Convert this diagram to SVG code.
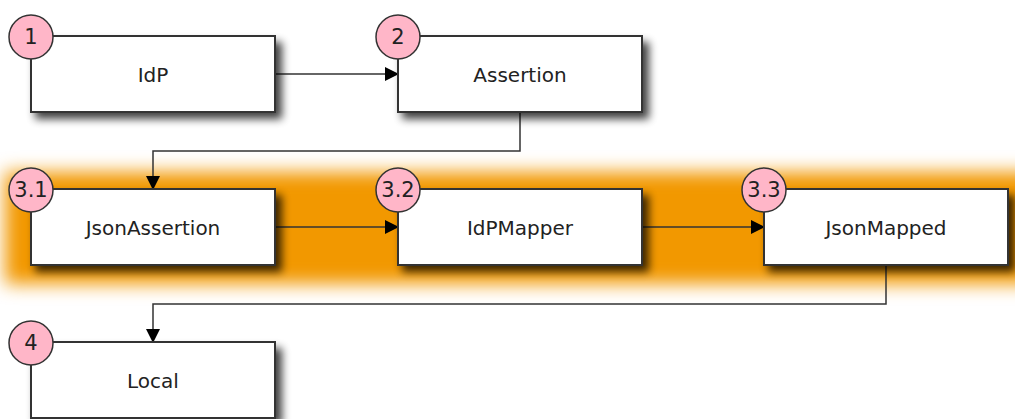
<svg xmlns="http://www.w3.org/2000/svg" width="1015" height="419" viewBox="0 0 1015 419">
<defs>
<filter id="sh" x="-20%" y="-30%" width="150%" height="180%"><feGaussianBlur stdDeviation="4"/></filter>
<filter id="band" x="-10%" y="-50%" width="120%" height="200%"><feGaussianBlur stdDeviation="9"/></filter>
<marker id="ar" markerWidth="14" markerHeight="14" refX="13" refY="7" orient="auto" markerUnits="userSpaceOnUse"><path d="M0,0 L14,7 L0,14 Z" fill="#000"/></marker>
</defs>
<style>
.box{fill:#fff;stroke:#333;stroke-width:2}
.shadow{fill:#000;opacity:0.75}
.badge{fill:#ffb6c8;stroke:#333;stroke-width:1.5}
.lbl{font-family:"DejaVu Sans",sans-serif;font-size:20px;fill:#222;text-anchor:middle;dominant-baseline:central}
.num{font-family:"DejaVu Sans",sans-serif;font-size:21px;fill:#222;text-anchor:middle;dominant-baseline:central}
.con{fill:none;stroke:#333;stroke-width:1.5}
</style>
<rect x="5" y="172" width="1050" height="112" fill="#f29800" filter="url(#band)"/>
<g id="connectors">
<path class="con" d="M275,74 H398" marker-end="url(#ar)"/>
<path class="con" d="M520,112 V151 H153 V189" marker-end="url(#ar)"/>
<path class="con" d="M275,227 H398" marker-end="url(#ar)"/>
<path class="con" d="M642,227 H764" marker-end="url(#ar)"/>
<path class="con" d="M886,265 V304 H153 V342" marker-end="url(#ar)"/>
</g>
<g id="n1">
<rect class="shadow" x="35" y="42" width="247" height="77" filter="url(#sh)"/>
<rect class="box" x="31" y="36" width="244" height="76"/>
<text class="lbl" x="153" y="75">IdP</text>
<circle class="badge" cx="31" cy="37" r="22"/><text class="num" x="31" y="37">1</text>
</g>
<g id="n2">
<rect class="shadow" x="402" y="42" width="247" height="77" filter="url(#sh)"/>
<rect class="box" x="398" y="36" width="244" height="76"/>
<text class="lbl" x="520" y="75">Assertion</text>
<circle class="badge" cx="398" cy="37" r="22"/><text class="num" x="398" y="37">2</text>
</g>
<g id="n31">
<rect class="shadow" x="35" y="195" width="247" height="77" filter="url(#sh)"/>
<rect class="box" x="31" y="189" width="244" height="76"/>
<text class="lbl" x="153" y="228">JsonAssertion</text>
<circle class="badge" cx="31" cy="190" r="22"/><text class="num" x="31" y="190">3.1</text>
</g>
<g id="n32">
<rect class="shadow" x="402" y="195" width="247" height="77" filter="url(#sh)"/>
<rect class="box" x="398" y="189" width="244" height="76"/>
<text class="lbl" x="520" y="228">IdPMapper</text>
<circle class="badge" cx="398" cy="190" r="22"/><text class="num" x="398" y="190">3.2</text>
</g>
<g id="n33">
<rect class="shadow" x="768" y="195" width="247" height="77" filter="url(#sh)"/>
<rect class="box" x="764" y="189" width="244" height="76"/>
<text class="lbl" x="886" y="228">JsonMapped</text>
<circle class="badge" cx="764" cy="190" r="22"/><text class="num" x="764" y="190">3.3</text>
</g>
<g id="n4">
<rect class="shadow" x="35" y="348" width="247" height="77" filter="url(#sh)"/>
<rect class="box" x="31" y="342" width="244" height="76"/>
<text class="lbl" x="153" y="381">Local</text>
<circle class="badge" cx="31" cy="343" r="22"/><text class="num" x="31" y="343">4</text>
</g>
</svg>
